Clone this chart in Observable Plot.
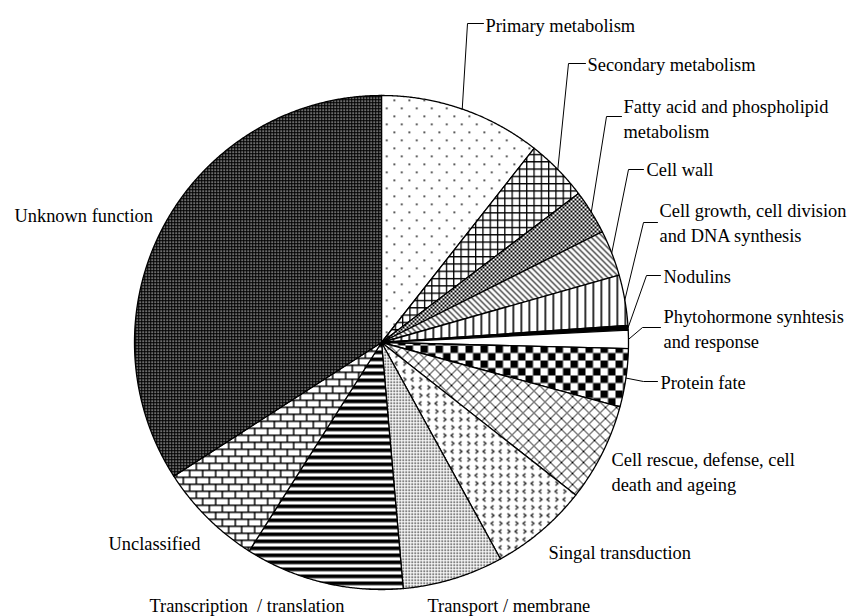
<!DOCTYPE html>
<html><head><meta charset="utf-8">
<script src="https://cdn.jsdelivr.net/npm/d3@7"></script>
<script src="https://cdn.jsdelivr.net/npm/@observablehq/plot@0.6"></script>
<style>body{margin:0;background:#fff} svg text{white-space:pre}</style>
</head><body><div id="chart"></div>
<script>
// ---- data (percent of genes) ----
const categories = [
  "Primary metabolism",
  "Secondary metabolism",
  "Fatty acid and phospholipid\nmetabolism",
  "Cell wall",
  "Cell growth, cell division\nand DNA synthesis",
  "Nodulins",
  "Phytohormone synhtesis\nand response",
  "Protein fate",
  "Cell rescue, defense, cell\ndeath and ageing",
  "Singal transduction",
  "Transport / membrane",
  "Transcription  / translation",
  "Unclassified",
  "Unknown function"
];
const values = [10.6, 4.1, 2.9, 3.0, 3.3, 0.3, 1.2, 3.8, 6.4, 6.4, 6.6, 10.4, 6.9, 34.1];

// ---- layout (pixels) ----
const W = 851, H = 616, CX = 381, CY = 342, R = 247;
const FS = 18.4;
// text position (x, baseline of last line); leader: elbow x,y and tick end x
const labelLayout = [
  {tx: 485, ty: 31,  ex: 467, ey: 23,  kx: 483},
  {tx: 587, ty: 70,  ex: 568, ey: 63,  kx: 585},
  {tx: 623, ty: 137, ex: 606, ey: 116, kx: 621},
  {tx: 646, ty: 175, ex: 628, ey: 169, kx: 643},
  {tx: 659, ty: 241, ex: 643, ey: 222, kx: 657},
  {tx: 663, ty: 282, ex: 646, ey: 275, kx: 660},
  {tx: 663, ty: 347, ex: 642, ey: 327, kx: 660},
  {tx: 660, ty: 388, ex: 643, ey: 381, kx: 657},
  {tx: 611, ty: 490},
  {tx: 548, ty: 558},
  {tx: 427, ty: 611},
  {tx: 149, ty: 611},
  {tx: 108, ty: 549},
  {tx: 14,  ty: 221}
];
const px = (x) => (x - CX) / R;
const py = (y) => (CY - y) / R;

// ---- slices from data ----
const pie = d3.pie().sort(null).value(d => d)(values);
const slices = pie.map((p, i) => {
  const pts = [{x: 0, y: 0}];
  const n = Math.max(2, Math.ceil((p.endAngle - p.startAngle) / 0.005));
  for (let k = 0; k <= n; k++) {
    const a = p.startAngle + (p.endAngle - p.startAngle) * k / n;
    pts.push({x: Math.sin(a), y: Math.cos(a)});
  }
  pts.push({x: 0, y: 0});
  return {i, name: categories[i], pts, mid: (p.startAngle + p.endAngle) / 2};
});

const sliceMarks = slices.map(s =>
  Plot.line(s.pts, {x: "x", y: "y", fill: `url(#pat-${s.i})`, stroke: "black", strokeWidth: 1.3, strokeLinejoin: "round", curve: "linear"})
);

const leaderMarks = slices.filter(s => labelLayout[s.i].ex !== undefined).map(s => {
  const L = labelLayout[s.i];
  const pts = [
    {x: px(L.kx), y: py(L.ey)},
    {x: px(L.ex), y: py(L.ey)},
    {x: Math.sin(s.mid), y: Math.cos(s.mid)}
  ];
  return Plot.line(pts, {x: "x", y: "y", stroke: "black", strokeWidth: 1, curve: "linear"});
});

const labelData = categories.map((c, i) => ({name: c, x: px(labelLayout[i].tx), y: py(labelLayout[i].ty)}));

const svg = Plot.plot({
  width: W, height: H,
  margin: 0,
  x: {domain: [px(0), px(W)], axis: null},
  y: {domain: [py(H), py(0)], axis: null},
  style: {background: "white", fontFamily: "Liberation Serif"},
  marks: [
    ...sliceMarks,
    ...leaderMarks,
    Plot.text(labelData, {x: "x", y: "y", text: "name", textAnchor: "start", lineAnchor: "bottom",
      lineHeight: 25 / FS, fontSize: FS, fontFamily: "Liberation Serif", fill: "black"})
  ]
});

const defs = document.createElementNS("http://www.w3.org/2000/svg", "defs");
defs.innerHTML = `
<pattern id="pat-0" patternUnits="userSpaceOnUse" width="15" height="16"><rect width="15" height="16" fill="#fff"/><rect x="3" y="3" width="1.6" height="1.6" fill="#000"/><rect x="10.5" y="11" width="1.6" height="1.6" fill="#000"/></pattern>
<pattern id="pat-1" patternUnits="userSpaceOnUse" width="7.3" height="7.3"><rect width="7.3" height="7.3" fill="#fff"/><path d="M0 0.65H7.3M0.65 0V7.3" stroke="#000" stroke-width="1.3"/></pattern>
<pattern id="pat-2" patternUnits="userSpaceOnUse" width="4" height="4"><rect width="4" height="4" fill="#fff"/><rect width="2" height="2" fill="#000"/><rect x="2" y="2" width="2" height="2" fill="#000"/></pattern>
<pattern id="pat-3" patternUnits="userSpaceOnUse" width="6" height="6"><rect width="6" height="6" fill="#fff"/><path d="M0 0L6 6M-1.5 4.5L1.5 7.5M4.5 -1.5L7.5 1.5" stroke="#000" stroke-width="1.1"/></pattern>
<pattern id="pat-4" patternUnits="userSpaceOnUse" width="8" height="8"><rect width="8" height="8" fill="#fff"/><rect width="1.6" height="8" fill="#000"/></pattern>
<pattern id="pat-5" patternUnits="userSpaceOnUse" width="4" height="4"><rect width="4" height="4" fill="#000"/></pattern>
<pattern id="pat-6" patternUnits="userSpaceOnUse" width="4" height="4"><rect width="4" height="4" fill="#fff"/></pattern>
<pattern id="pat-7" patternUnits="userSpaceOnUse" width="15" height="15"><rect width="15" height="15" fill="#fff"/><rect width="7.5" height="7.5" fill="#000"/><rect x="7.5" y="7.5" width="7.5" height="7.5" fill="#000"/></pattern>
<pattern id="pat-8" patternUnits="userSpaceOnUse" width="11" height="11"><rect width="11" height="11" fill="#fff"/><path d="M-1 -1L12 12M12 -1L-1 12" stroke="#000" stroke-width="1"/></pattern>
<pattern id="pat-9" patternUnits="userSpaceOnUse" width="16" height="16"><rect width="16" height="16" fill="#fff"/><path d="M5 1L2.5 3L5 5M11 1L13.5 3L11 5M3 9L5.5 11L3 13M13 9L10.5 11L13 13" stroke="#000" stroke-width="1.1" fill="none"/></pattern>
<pattern id="pat-10" patternUnits="userSpaceOnUse" width="3" height="3"><rect width="3" height="3" fill="#fff"/><rect width="1.4" height="1.4" fill="#000"/></pattern>
<pattern id="pat-11" patternUnits="userSpaceOnUse" width="8" height="7"><rect width="8" height="7" fill="#fff"/><rect width="8" height="3.7" fill="#000"/></pattern>
<pattern id="pat-12" patternUnits="userSpaceOnUse" width="13" height="14"><rect width="13" height="14" fill="#fff"/><path d="M0 0.75H13M0 7.75H13M0.75 0V7M7.25 7V14" stroke="#000" stroke-width="1.5"/></pattern>
<pattern id="pat-13" patternUnits="userSpaceOnUse" width="3" height="3"><rect width="3" height="3" fill="#000"/><rect x="1" y="1" width="1.3" height="1.3" fill="#fff"/></pattern>
`;
svg.insertBefore(defs, svg.firstChild);
document.getElementById("chart").appendChild(svg);
</script>
</body></html>
